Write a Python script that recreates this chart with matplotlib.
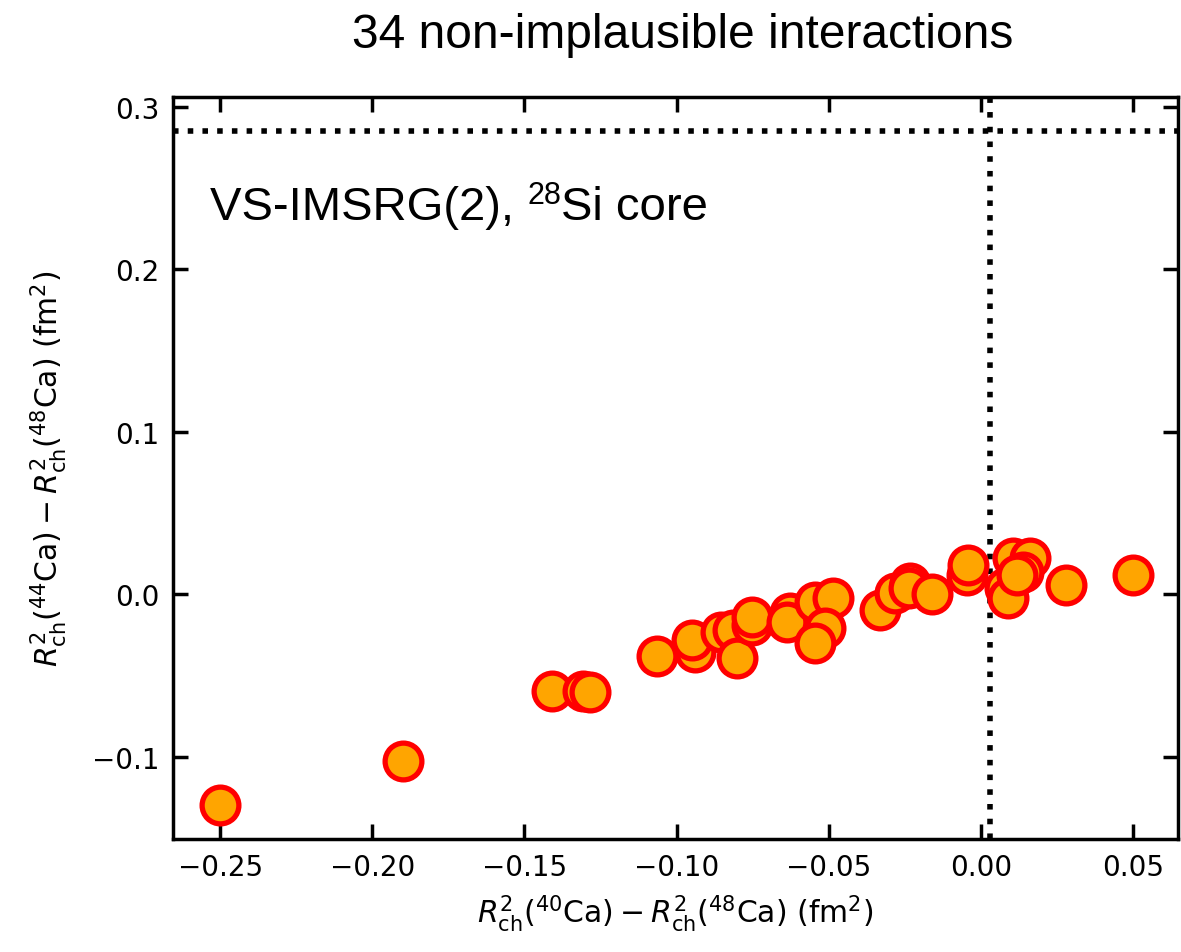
import matplotlib
matplotlib.use("Agg")
import matplotlib.pyplot as plt

plt.rcParams['font.family'] = ['DejaVu Sans']
plt.rcParams['mathtext.fontset'] = 'dejavusans'

# Data
dr2_40_48 = [-0.2500, -0.1900, -0.1408, -0.1306, -0.1284, -0.1063, -0.0940, -0.0951,
             -0.0855, -0.0815, -0.0803, -0.0753, -0.0753, -0.0627, -0.0638, -0.0545,
             -0.0485, -0.0512, -0.0545, -0.0332, -0.0283, -0.0233, -0.0235, -0.0162,
             -0.0047, -0.0042, 0.0079, 0.0090, 0.0106, 0.0161, 0.0139, 0.0120,
             0.0281, 0.0500]
dr2_44_48 = [-0.1297, -0.1024, -0.0594, -0.0596, -0.0598, -0.0377, -0.0352, -0.0281,
             -0.0233, -0.0219, -0.0389, -0.0189, -0.0140, -0.0117, -0.0168, -0.0045,
             -0.0025, -0.0205, -0.0301, -0.0096, 0.0010, 0.0068, 0.0040, 0.0000,
             0.0119, 0.0180, 0.0037, -0.0025, 0.0221, 0.0221, 0.0140, 0.0120,
             0.0057, 0.0119]
ref_x = 0.003
ref_y = 0.285

xticks = [-0.25, -0.20, -0.15, -0.10, -0.05, 0.00, 0.05]
yticks = [-0.1, 0.0, 0.1, 0.2, 0.3]

fig = plt.figure(figsize=(11.81, 9.53), dpi=100)
ax = fig.add_axes([0.1465, 0.1186, 0.851, 0.7786])

ax.scatter(dr2_40_48, dr2_44_48, s=700, c="orange", edgecolors="red",
           linewidths=3.8, zorder=3)
ax.axvline(ref_x, color="black", linestyle=":", linewidth=4, zorder=2)
ax.axhline(ref_y, color="black", linestyle=":", linewidth=4, zorder=2)

ax.set_xlim(-0.2655, 0.0648)
ax.set_ylim(-0.1505, 0.306)
ax.set_xticks(xticks)
ax.set_yticks(yticks)
ax.set_xticklabels([f"{t:.2f}".replace("-", "\u2212") for t in xticks])
ax.set_yticklabels([f"{t:.1f}".replace("-", "\u2212") for t in yticks])
ax.tick_params(direction="in", length=11, width=2.5, labelsize=20,
               top=True, right=True, pad=10)
for sp in ax.spines.values():
    sp.set_linewidth(2.5)

ax.set_xlabel(r"$R^2_{\rm ch}(^{40}{\rm Ca}) - R^2_{\rm ch}(^{48}{\rm Ca})$ (fm$^2$)",
              fontsize=21.5, labelpad=8)
ax.set_ylabel(r"$R^2_{\rm ch}(^{44}{\rm Ca}) - R^2_{\rm ch}(^{48}{\rm Ca})$ (fm$^2$)",
              fontsize=21.5, labelpad=16)

# annotation: main text plus a smaller raised mass number
t1 = ax.text(0.037, 0.835, "VS-IMSRG(2), ", transform=ax.transAxes,
             fontsize=34, family="Liberation Sans")
fig.canvas.draw()
bb = t1.get_window_extent().transformed(ax.transAxes.inverted())
t2 = ax.text(bb.x1, 0.835 + 0.022, "28", transform=ax.transAxes,
             fontsize=22, family="Liberation Sans")
fig.canvas.draw()
bb2 = t2.get_window_extent().transformed(ax.transAxes.inverted())
ax.text(bb2.x1, 0.835, "Si core", transform=ax.transAxes,
        fontsize=34, family="Liberation Sans")

fig.text(0.578, 0.963, "34 non-implausible interactions", ha="center", va="center",
         fontsize=34.5, family="Liberation Sans")

fig.savefig("out.png", dpi=100)
